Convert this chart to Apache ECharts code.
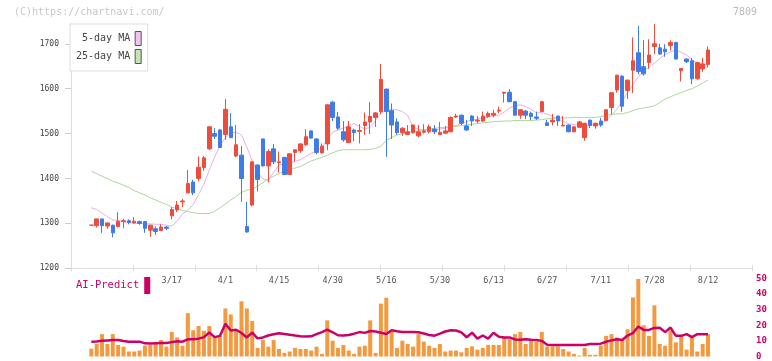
<!DOCTYPE html>
<html><head><meta charset="utf-8">
<script src="https://cdn.jsdelivr.net/npm/echarts@6/dist/echarts.min.js"></script>
<style>html,body{margin:0;padding:0;background:#fff}#c{width:772px;height:361px}</style>
</head><body><div id="c"></div>
<script>
const dates = ['2/21','2/25','2/26','2/27','2/28','3/3','3/4','3/5','3/6','3/7',
'3/10','3/11','3/12','3/13','3/14','3/17','3/18','3/19','3/21','3/24',
'3/25','3/26','3/27','3/28','3/31','4/1','4/2','4/3','4/4','4/7',
'4/8','4/9','4/10','4/11','4/14','4/15','4/16','4/17','4/18','4/21',
'4/22','4/23','4/24','4/25','4/28','4/30','5/1','5/2','5/7','5/8',
'5/9','5/12','5/13','5/14','5/15','5/16','5/19','5/20','5/21','5/22',
'5/23','5/26','5/27','5/28','5/29','5/30','6/2','6/3','6/4','6/5',
'6/6','6/9','6/10','6/11','6/12','6/13','6/16','6/17','6/18','6/19',
'6/20','6/23','6/24','6/25','6/26','6/27','6/30','7/1','7/2','7/3',
'7/4','7/7','7/8','7/9','7/10','7/11','7/14','7/15','7/16','7/17',
'7/18','7/22','7/23','7/24','7/25','7/28','7/29','7/30','7/31','8/1',
'8/4','8/5','8/6','8/7','8/8','8/12'];
const dateLabels = ['3/17','4/1','4/15','4/30','5/16','5/30','6/13','6/27','7/11','7/28','8/12'];
const priceTicks = [1200,1300,1400,1500,1600,1700];

const open = [1296,1295,1310,1294,1296,1293,1304,1306,1301,1304,
 1304,1285,1288,1284,1292,1317,1330,1348,1368,1392,
 1400,1424,1466,1500,1508,1498,1515,1450,1452,1293,
 1341,1430,1488,1428,1466,1435,1447,1409,1458,1462,
 1475,1506,1488,1457,1477,1570,1537,1504,1480,1508,
 1505,1518,1526,1536,1549,1599,1551,1526,1502,1498,
 1502,1495,1503,1504,1510,1498,1501,1504,1537,1541,
 1517,1539,1528,1528,1538,1541,1550,1590,1592,1571,
 1541,1550,1545,1537,1549,1524,1526,1539,1517,1519,
 1504,1514,1491,1530,1517,1528,1529,1558,1597,1628,
 1596,1641,1680,1649,1658,1694,1691,1688,1696,1703,
 1640,1666,1662,1622,1644,1654];
const close = [1296,1310,1295,1301,1279,1305,1306,1302,1305,1300,
 1289,1296,1282,1292,1289,1331,1341,1350,1389,1368,
 1425,1446,1515,1494,1469,1554,1491,1475,1400,1281,
 1437,1398,1428,1460,1437,1437,1409,1455,1464,1477,
 1493,1490,1458,1472,1564,1536,1512,1486,1515,1502,
 1507,1526,1538,1546,1621,1549,1519,1502,1512,1504,
 1519,1504,1506,1515,1504,1503,1506,1536,1539,1523,
 1508,1528,1530,1539,1545,1545,1552,1592,1571,1541,
 1553,1541,1538,1534,1571,1518,1530,1528,1519,1504,
 1515,1526,1523,1518,1523,1519,1553,1591,1630,1561,
 1619,1662,1638,1633,1675,1700,1677,1682,1703,1666,
 1645,1660,1622,1658,1655,1686];
const low = [1295,1291,1279,1288,1269,1291,1289,1298,1300,1297,
 1279,1270,1274,1283,1285,1309,1325,1336,1367,1363,
 1394,1417,1463,1488,1468,1486,1490,1447,1348,1279,
 1338,1371,1427,1391,1432,1413,1408,1408,1437,1457,
 1473,1488,1454,1456,1463,1528,1508,1482,1479,1483,
 1478,1497,1499,1515,1543,1448,1488,1497,1495,1497,
 1500,1492,1500,1500,1499,1497,1499,1503,1535,1519,
 1506,1517,1523,1526,1535,1536,1545,1569,1570,1540,
 1533,1532,1530,1530,1548,1517,1518,1517,1517,1503,
 1503,1512,1484,1512,1511,1515,1528,1543,1591,1549,
 1577,1590,1632,1629,1644,1677,1676,1671,1685,1665,
 1616,1657,1610,1620,1638,1647];
const high = [1297,1310,1310,1302,1297,1325,1310,1309,1314,1306,
 1305,1297,1293,1298,1294,1336,1350,1354,1419,1397,
 1449,1450,1516,1512,1510,1577,1546,1519,1472,1348,
 1438,1431,1489,1465,1477,1460,1448,1456,1465,1478,
 1510,1507,1490,1478,1565,1573,1548,1528,1528,1511,
 1521,1547,1570,1548,1655,1600,1567,1534,1514,1519,
 1520,1519,1521,1520,1519,1526,1517,1538,1544,1542,
 1530,1541,1539,1549,1549,1553,1560,1593,1599,1572,
 1554,1552,1549,1549,1573,1530,1544,1540,1539,1520,
 1516,1528,1524,1531,1524,1535,1554,1592,1631,1629,
 1620,1714,1740,1708,1710,1744,1700,1699,1708,1704,
 1646,1667,1668,1659,1669,1694];
const ma5 = [1335,1331,1323,1315,1308,1306,1304,1302,1300,1300,
 1299,1299,1298,1298,1296,1294,1305,1321,1329,1342,
 1364,1387,1419,1448,1473,1491,1501,1503,1497,1470,
 1439,1414,1399,1396,1414,1430,1433,1434,1438,1442,
 1449,1456,1461,1470,1487,1503,1508,1512,1518,1522,
 1516,1510,1514,1529,1546,1551,1554,1553,1549,1540,
 1515,1509,1508,1508,1508,1510,1512,1515,1518,1523,
 1527,1530,1532,1535,1537,1539,1541,1548,1557,1562,
 1564,1560,1554,1546,1547,1543,1538,1532,1527,1522,
 1520,1519,1519,1519,1520,1522,1529,1541,1554,1572,
 1591,1609,1627,1638,1648,1657,1667,1676,1682,1686,
 1681,1675,1665,1656,1655,1653];
const ma25 = [1416,1411,1405,1400,1394,1390,1385,1380,1373,1368,
 1363,1357,1352,1347,1342,1336,1333,1329,1326,1324,
 1322,1322,1322,1327,1335,1343,1352,1360,1369,1374,
 1376,1383,1391,1399,1405,1411,1417,1422,1423,1427,
 1433,1439,1443,1447,1452,1457,1462,1464,1464,1464,
 1464,1464,1465,1467,1472,1485,1491,1497,1499,1502,
 1504,1506,1508,1510,1512,1513,1514,1515,1516,1518,
 1519,1521,1522,1524,1525,1527,1527,1528,1528,1529,
 1529,1529,1529,1530,1531,1533,1534,1534,1535,1535,
 1536,1536,1536,1536,1536,1538,1540,1543,1544,1544,
 1547,1551,1555,1557,1559,1562,1569,1577,1582,1587,
 1591,1596,1600,1606,1613,1619];
const volume = [5.0,8.0,14.3,8.0,14.3,7.4,6.3,3.2,3.2,3.8,
 6.9,7.4,8.0,10.5,6.3,15.7,12.2,6.9,27.7,16.8,
 19.5,16.4,19.5,12.6,13.2,30.7,26.9,16.8,35.3,30.7,
 22.7,5.5,10.5,6.3,10.5,4.8,2.3,3.2,5.5,4.8,
 4.8,3.8,6.3,1.7,23.1,10.1,5.5,7.4,3.8,1.7,
 6.3,6.9,23.1,2.3,33.8,37.6,15.7,5.5,10.1,8.0,
 6.3,14.3,9.5,6.9,5.5,8.0,3.2,3.8,3.8,2.7,
 5.5,6.5,4.4,5.5,7.4,7.4,7.4,12.6,11.1,14.3,
 15.7,8.0,11.1,9.5,15.7,6.5,6.5,6.5,4.8,3.2,
 1.7,0.6,5.5,1.1,1.1,6.9,13.2,14.3,12.2,10.7,
 17.4,37.8,49.6,20.0,13.2,32.7,8.0,6.9,16.8,9.1,
 12.8,4.4,13.2,3.2,8.0,14.3];
const aiPredict = [9.5,9.6,10.1,10.3,10.5,10.5,9.9,9.5,9.5,9.5,
 8.4,8.3,8.5,8.6,8.6,9.2,9.8,9.5,11.0,11.1,
 11.4,12.4,15.3,12.4,13.2,21.0,16.6,17.1,15.0,12.2,
 15.2,11.6,12.2,13.4,14.2,14.8,14.4,13.9,13.4,13.0,
 12.8,12.9,14.3,15.6,17.2,15.5,13.6,13.4,13.8,14.6,
 15.6,15.1,16.3,16.0,15.2,14.4,16.8,16.1,15.7,15.7,
 15.7,15.5,14.7,13.8,13.3,14.6,16.0,16.8,16.6,15.4,
 12.3,15.3,11.4,13.4,11.4,15.2,12.6,12.2,12.2,10.9,
 10.7,11.0,10.7,10.6,10.0,7.5,7.4,7.4,7.4,7.4,
 7.4,7.4,7.4,8.0,8.0,8.2,9.4,10.3,11.0,10.5,
 13.4,15.0,19.2,17.0,17.0,18.3,18.4,15.6,18.5,13.2,
 13.2,14.3,12.4,14.3,14.3,14.3];
const volTicks = [0,10,20,30,40,50];

const MONO = "'DejaVu Sans Mono','Liberation Mono',monospace";
const X_MIN = -3.79, X_MAX = 123.2;
const RED = '#f04c3c', BLUE = '#3f7ce8';

const candleData = dates.map((d, i) => [i, open[i], close[i], low[i], high[i]]);
const pairs = arr => arr.map((v, i) => [i, v]);
const labelIdx = dateLabels.map(d => dates.indexOf(d));

const chart = echarts.init(document.getElementById('c'), null, {renderer: 'canvas'});
chart.setOption({
  animation: false,
  backgroundColor: '#fff',
  title: [
    {text: '(C)https://chartnavi.com/', left: 14, top: 7, padding: 0,
     textStyle: {fontFamily: MONO, fontSize: 10, fontWeight: 'normal', color: '#c8c8c8'}},
    {text: '7809', right: 15, top: 7, padding: 0,
     textStyle: {fontFamily: MONO, fontSize: 10, fontWeight: 'normal', color: '#bbb'}}
  ],
  legend: [
    {data: [
      {name: '5-day MA', icon: 'rect', itemStyle: {color: '#f0c4f0', borderColor: '#555', borderWidth: 1}},
      {name: '25-day MA', icon: 'rect', itemStyle: {color: '#c4e4b4', borderColor: '#555', borderWidth: 1}}
     ],
     orient: 'vertical', left: 70, top: 24, align: 'right', itemWidth: 6, itemHeight: 14, itemGap: 3,
     padding: [7, 6, 7, 6], backgroundColor: '#fff', borderColor: '#ddd', borderWidth: 1,
     selectedMode: false, textStyle: {fontFamily: MONO, fontSize: 10, color: '#444'}},
    {data: [{name: 'AI-Predict', icon: 'rect', itemStyle: {color: '#cc0066', borderWidth: 0}}],
     left: 76, top: 277, align: 'right', itemWidth: 6, itemHeight: 17, padding: 0,
     selectedMode: false, textStyle: {fontFamily: MONO, fontSize: 10.5, color: '#cc0066'}}
  ],
  grid: [
    {left: 71, right: 20, top: 24, height: 244.3},
    {left: 71, right: 20, top: 278.3, height: 79.4}
  ],
  xAxis: [
    {type: 'value', gridIndex: 0, min: X_MIN, max: X_MAX, position: 'bottom',
     axisLine: {show: false, onZero: false}, axisTick: {show: false}, splitLine: {show: false},
     axisLabel: {customValues: labelIdx, formatter: v => dates[v], fontFamily: MONO, fontSize: 8.5, color: '#555', margin: 8}},
    {type: 'value', gridIndex: 0, min: 0, max: 11, interval: 1, position: 'bottom',
     axisLine: {show: true, onZero: false, lineStyle: {color: '#ddd', width: 1}},
     axisTick: {show: true, length: 3, lineStyle: {color: '#ddd'}},
     axisLabel: {show: false}, splitLine: {show: false}},
    {type: 'value', gridIndex: 0, min: 0, max: 11, interval: 1, position: 'bottom',
     axisLine: {show: false, onZero: false},
     axisTick: {show: true, inside: true, length: 3, lineStyle: {color: '#ddd'}},
     axisLabel: {show: false}, splitLine: {show: false}},
    {type: 'value', gridIndex: 1, min: X_MIN, max: X_MAX, show: false}
  ],
  yAxis: [
    {type: 'value', gridIndex: 0, min: 1200, max: Math.max(...high), position: 'left',
     axisLine: {show: true, onZero: false, lineStyle: {color: '#ddd'}},
     axisTick: {show: true, length: 6, customValues: priceTicks, lineStyle: {color: '#ccc'}},
     axisLabel: {customValues: priceTicks, formatter: v => String(v), fontFamily: MONO, fontSize: 8, color: '#444', margin: 12},
     splitLine: {show: false}},
    {type: 'value', gridIndex: 1, min: 0, max: 50, interval: 10, position: 'right',
     axisLine: {show: false, onZero: false}, axisTick: {show: false}, splitLine: {show: false},
     axisLabel: {formatter: v => String(v), fontFamily: MONO, fontSize: 9, fontWeight: 'bold', color: '#cc0066', margin: 4}}
  ],
  series: [
    {name: '5-day MA', type: 'line', xAxisIndex: 0, yAxisIndex: 0, data: pairs(ma5), showSymbol: false,
     lineStyle: {color: '#e8b0e8', width: 1}, itemStyle: {color: '#e8b0e8'}, z: 2},
    {name: '25-day MA', type: 'line', xAxisIndex: 0, yAxisIndex: 0, data: pairs(ma25), showSymbol: false,
     lineStyle: {color: '#acd89c', width: 1}, itemStyle: {color: '#acd89c'}, z: 2},
    {name: 'price', type: 'candlestick', xAxisIndex: 0, yAxisIndex: 0, data: candleData, barWidth: 4,
     itemStyle: {color: RED, color0: BLUE, borderColor: RED, borderColor0: BLUE, borderWidth: 1}, z: 3},
    {name: 'volume', type: 'bar', xAxisIndex: 3, yAxisIndex: 1, data: pairs(volume), barWidth: 4,
     itemStyle: {color: '#f39a40'}, z: 2},
    {name: 'AI-Predict', type: 'line', xAxisIndex: 3, yAxisIndex: 1, data: pairs(aiPredict), showSymbol: false,
     lineStyle: {color: '#cc0066', width: 2.5}, itemStyle: {color: '#cc0066'}, z: 3}
  ]
});
</script>
</body></html>
